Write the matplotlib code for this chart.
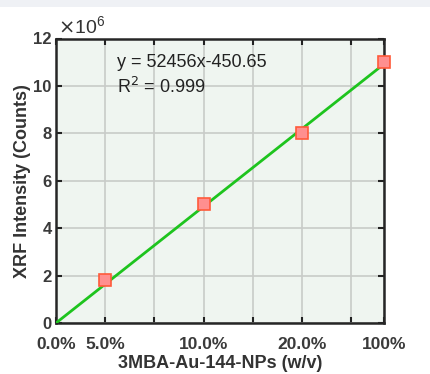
import numpy as np
import matplotlib.pyplot as plt
from matplotlib.patches import Rectangle

plt.rcParams['font.family'] = ['Liberation Sans', 'DejaVu Sans']

# concentration axis positions (arbitrary units used by the plot) and labels
conc_pos = [1, 3, 5, 6.67]
conc_labels = ['5.0%', '10.0%', '20.0%', '100%']
# XRF counts, in units of 1e6
counts = [1.8, 5.0, 8.0, 11.0]

tick_pos = [0, 1, 2, 3, 4, 5, 6, 6.67]
tick_labels = ['0.0%', '5.0%', '', '10.0%', '', '20.0%', '', '100%']

fig = plt.figure(figsize=(4.31, 3.74), dpi=100)
fig.patch.set_facecolor('white')
# pale band along the top edge
fig.patches.append(Rectangle((0, 1 - 7/374), 1, 7/374, transform=fig.transFigure,
                             facecolor='#eff1f5', edgecolor='none', zorder=0))

ax = fig.add_axes([56/431, 51/374, 328/431, 284.5/374])
ax.set_facecolor('#eff5f0')

# least squares line through the origin
x = np.array(conc_pos)
y = np.array(counts)
slope = np.sum(x * y) / np.sum(x * x)
xf = np.array([0, 6.67])
ax.plot(xf, slope * xf, color='#1ec41e', lw=2, zorder=3)
ax.plot(x, y, 's', ms=8, mfc='#ff8f8f', mec='#ff5a3a', mew=1.2, zorder=4, clip_on=False)

ax.set_xlim(0, 6.67)
ax.set_ylim(0, 12)
ax.set_xticks(tick_pos)
ax.set_xticklabels(tick_labels)
ax.set_yticks(range(0, 13, 2))
ax.grid(True, color='#c8cbc8', lw=1.2)
ax.set_axisbelow(True)

ax.tick_params(direction='in', top=True, right=True, length=4, width=1.5,
               labelsize=12, colors='#222222', labelcolor='#3a3a3a')
ax.tick_params(axis='x', labelsize=12.5, pad=10)
ax.tick_params(axis='y', pad=3)
for lab in ax.get_xticklabels() + ax.get_yticklabels():
    lab.set_fontweight('bold')
for s in ax.spines.values():
    s.set_linewidth(1.8)
    s.set_color('#262626')

ax.set_xlabel('3MBA-Au-144-NPs (w/v)', fontsize=13, fontweight='bold',
              color='#333333', labelpad=2)
ax.set_ylabel('XRF Intensity (Counts)', fontsize=13, fontweight='bold',
              color='#333333', labelpad=2)

ax.text(0.005, 1.005, r'$\times\mathregular{10^6}$', transform=ax.transAxes,
        fontsize=14, color='#333333', ha='left', va='bottom')

ax.text(1.25, 11.0, 'y = 52456x-450.65', fontsize=13, color='#222222', va='center')
ax.text(1.25, 9.95, r'R$^2$ = 0.999', fontsize=13, color='#222222', va='center')

fig.savefig('out.png', dpi=100)
